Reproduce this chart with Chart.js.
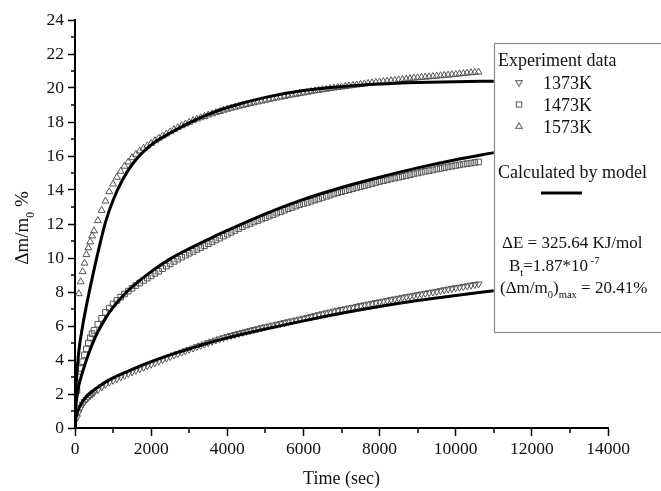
<!DOCTYPE html>
<html>
<head>
<meta charset="utf-8">
<script src="https://cdn.jsdelivr.net/npm/chart.js@4"></script>
<style>
  html, body { margin: 0; padding: 0; background: #fff; }
  #wrap { width: 661px; height: 491px; }
</style>
</head>
<body>
<div id="wrap"><canvas id="chart" width="661" height="491"></canvas></div>
<script>
// Experiment data (sec -> dm/m0 %)
const markerTimes = [50, 100, 150, 200, 250, 300, 350, 400, 450, 500,
  600, 700, 800, 900, 1000, 1100, 1200, 1300, 1400, 1500, 1600, 1700, 1800, 1900, 2000,
  2100, 2200, 2300, 2400, 2500, 2600, 2700, 2800, 2900, 3000,
  3100, 3200, 3300, 3400, 3500, 3600, 3700, 3800, 3900, 4000,
  4100, 4200, 4300, 4400, 4500, 4600, 4700, 4800, 4900, 5000,
  5100, 5200, 5300, 5400, 5500, 5600, 5700, 5800, 5900, 6000,
  6100, 6200, 6300, 6400, 6500, 6600, 6700, 6800, 6900, 7000,
  7100, 7200, 7300, 7400, 7500, 7600, 7700, 7800, 7900, 8000,
  8100, 8200, 8300, 8400, 8500, 8600, 8700, 8800, 8900, 9000,
  9100, 9200, 9300, 9400, 9500, 9600, 9700, 9800, 9900, 10000,
  10100, 10200, 10300, 10400, 10500, 10600];
const exp1373 = [0.60, 0.95, 1.20, 1.40, 1.55, 1.68, 1.80, 1.90, 1.99, 2.08,
  2.25, 2.41, 2.56, 2.69, 2.80, 2.90, 3.00, 3.10, 3.20, 3.30, 3.39, 3.48, 3.57, 3.66, 3.75,
  3.84, 3.93, 4.02, 4.11, 4.20, 4.29, 4.37, 4.46, 4.54, 4.62,
  4.70, 4.78, 4.86, 4.94, 5.02, 5.10, 5.17, 5.24, 5.31, 5.38,
  5.44, 5.50, 5.56, 5.62, 5.68, 5.73, 5.79, 5.84, 5.90, 5.95,
  6.00, 6.05, 6.10, 6.15, 6.20, 6.25, 6.30, 6.35, 6.40, 6.45,
  6.50, 6.56, 6.61, 6.67, 6.72, 6.77, 6.82, 6.87, 6.92, 6.97,
  7.01, 7.06, 7.10, 7.15, 7.20, 7.24, 7.29, 7.33, 7.38, 7.42,
  7.46, 7.50, 7.55, 7.59, 7.63, 7.67, 7.72, 7.76, 7.80, 7.84,
  7.88, 7.92, 7.96, 8.00, 8.04, 8.08, 8.13, 8.17, 8.21, 8.25,
  8.28, 8.32, 8.36, 8.40, 8.44, 8.47];
const exp1473 = [2.2, 3.0, 3.5, 3.9, 4.3, 4.65, 5.0, 5.3, 5.55, 5.75,
  6.10, 6.45, 6.80, 7.05, 7.30, 7.50, 7.70, 7.88, 8.05, 8.22, 8.38, 8.53, 8.68, 8.82, 8.95,
  9.09, 9.22, 9.37, 9.52, 9.66, 9.80, 9.93, 10.05, 10.17, 10.28,
  10.39, 10.50, 10.61, 10.72, 10.84, 10.95, 11.06, 11.17, 11.29, 11.40,
  11.51, 11.62, 11.73, 11.84, 11.94, 12.03, 12.12, 12.20, 12.29, 12.38,
  12.47, 12.55, 12.64, 12.72, 12.81, 12.90, 12.97, 13.05, 13.13, 13.20,
  13.27, 13.34, 13.41, 13.48, 13.56, 13.63, 13.70, 13.77, 13.84, 13.90,
  13.96, 14.02, 14.08, 14.14, 14.20, 14.26, 14.32, 14.38, 14.44, 14.50,
  14.55, 14.60, 14.65, 14.70, 14.75, 14.80, 14.85, 14.90, 14.95, 15.00,
  15.05, 15.10, 15.14, 15.18, 15.23, 15.27, 15.32, 15.36, 15.40, 15.44,
  15.48, 15.52, 15.55, 15.58, 15.62, 15.65];
const exp1573 = [null, 7.9, 8.6, 9.2, 9.7, 10.2, 10.6, 10.95, 11.3, 11.6,
  12.2, 12.8, 13.35, 13.9, 14.35, 14.75, 15.1, 15.4, 15.65, 15.9, 16.1, 16.3, 16.45, 16.6, 16.75,
  16.90, 17.05, 17.18, 17.30, 17.43, 17.55, 17.67, 17.78, 17.88, 17.98,
  18.08, 18.17, 18.25, 18.33, 18.41, 18.48, 18.55, 18.62, 18.69, 18.75,
  18.81, 18.87, 18.93, 18.98, 19.03, 19.08, 19.13, 19.18, 19.23, 19.28,
  19.33, 19.37, 19.42, 19.46, 19.51, 19.55, 19.59, 19.63, 19.67, 19.71,
  19.75, 19.79, 19.83, 19.86, 19.90, 19.93, 19.97, 20.00, 20.03, 20.06,
  20.09, 20.12, 20.15, 20.18, 20.21, 20.24, 20.27, 20.30, 20.33, 20.35,
  20.38, 20.40, 20.43, 20.45, 20.48, 20.50, 20.53, 20.55, 20.58, 20.60,
  20.62, 20.64, 20.66, 20.68, 20.70, 20.72, 20.74, 20.76, 20.78, 20.80,
  20.83, 20.85, 20.88, 20.90, 20.92, 20.94];

// Calculated by model
const modelTimes = [0, 20, 50, 100, 200, 300, 450, 600, 800, 1000, 1250, 1500, 2000, 2500,
  3000, 3500, 4000, 5000, 6000, 7000, 8000, 9000, 10000, 11000];
const model1373 = [0, 0.5, 0.8, 1.15, 1.55, 1.85, 2.15, 2.4, 2.7, 2.95, 3.2, 3.45, 3.9, 4.3,
  4.65, 5.0, 5.3, 5.82, 6.3, 6.75, 7.15, 7.5, 7.8, 8.07];
const model1473 = [0, 1.2, 1.8, 2.5, 3.3, 4.0, 4.9, 5.65, 6.45, 7.1, 7.75, 8.3, 9.2, 9.95,
  10.55, 11.1, 11.62, 12.6, 13.45, 14.15, 14.75, 15.3, 15.78, 16.2];
const model1573 = [0, 2.0, 3.2, 4.5, 6.0, 7.2, 8.8, 10.3, 12.1, 13.4, 14.6, 15.5, 16.65, 17.35,
  17.95, 18.45, 18.85, 19.45, 19.85, 20.08, 20.23, 20.32, 20.37, 20.4];

const xMin = 0, xMax = 14000, xStep = 2000;
const yMin = 0, yMax = 24, yStep = 2;

const serif = "'Liberation Serif', 'Times New Roman', serif";

function pts(xs, ys) {
  return xs.map((x, i) => ({ x: x, y: ys[i] })).filter(p => p.y !== null);
}

function modelSet(label, ys) {
  return {
    label: label, data: pts(modelTimes, ys), showLine: true,
    borderColor: '#000', borderWidth: 3, pointRadius: 0,
    cubicInterpolationMode: 'monotone', fill: false
  };
}

function expSet(label, ys, style, rot) {
  return {
    label: label, data: pts(markerTimes, ys), showLine: false,
    pointStyle: style, rotation: rot, pointRadius: 4,
    pointBorderColor: '#555', pointBackgroundColor: 'rgba(255,255,255,0)', pointBorderWidth: 1
  };
}

// text with sub/superscripts: parts = [[text, 'n'|'sub'|'sup'], ...]
function richWidth(ctx, parts, size) {
  let w = 0;
  parts.forEach(p => {
    ctx.font = (p[1] === 'n' ? size : size * 0.62) + 'px ' + serif;
    w += ctx.measureText(p[0]).width;
  });
  return w;
}
function drawRich(ctx, parts, x, y, size) {
  parts.forEach(p => {
    let dy = 0;
    if (p[1] === 'sub') dy = size * 0.3;
    if (p[1] === 'sup') dy = -size * 0.42;
    ctx.font = (p[1] === 'n' ? size : size * 0.62) + 'px ' + serif;
    ctx.fillText(p[0], x, y + dy);
    x += ctx.measureText(p[0]).width;
  });
}

const extras = {
  id: 'extras',
  afterDraw(chart) {
    const ctx = chart.ctx;
    const xs = chart.scales.x, ys = chart.scales.y;
    ctx.save();
    // minor ticks
    ctx.strokeStyle = '#000';
    ctx.lineWidth = 1.5;
    ctx.beginPath();
    for (let v = xMin + xStep / 2; v < xMax; v += xStep) {
      const px = Math.round(xs.getPixelForValue(v));
      ctx.moveTo(px, xs.top); ctx.lineTo(px, xs.top + 5);
    }
    for (let v = yMin + yStep / 2; v < yMax; v += yStep) {
      const py = Math.round(ys.getPixelForValue(v));
      ctx.moveTo(ys.right, py); ctx.lineTo(ys.right - 4, py);
    }
    ctx.stroke();

    // legend box
    ctx.fillStyle = '#fff';
    ctx.fillRect(494, 43, 180, 289);
    ctx.strokeStyle = '#888';
    ctx.lineWidth = 1.2;
    ctx.strokeRect(494.5, 43.5, 180, 289);

    ctx.fillStyle = '#111';
    ctx.textAlign = 'left';
    ctx.textBaseline = 'alphabetic';
    ctx.font = '18px ' + serif;
    ctx.fillText('Experiment data', 498, 65.5);
    const rows = [['1373K', 'triangle', 180, 88.5], ['1473K', 'rect', 0, 110.5], ['1573K', 'triangle', 0, 132.5]];
    rows.forEach(r => {
      ctx.fillStyle = '#111';
      ctx.font = '18px ' + serif;
      ctx.fillText(r[0], 543, r[3]);
      ctx.strokeStyle = '#777';
      ctx.fillStyle = 'rgba(255,255,255,0)';
      Chart.helpers.drawPoint(ctx, { pointStyle: r[1], rotation: r[2], radius: 3.8, borderWidth: 1 }, 519, r[3] - 6);
    });
    ctx.fillStyle = '#111';
    ctx.font = '18px ' + serif;
    ctx.fillText('Calculated by model', 498, 177.5);
    ctx.strokeStyle = '#000';
    ctx.lineWidth = 3;
    ctx.beginPath();
    ctx.moveTo(541, 193); ctx.lineTo(582, 193);
    ctx.stroke();

    drawRich(ctx, [['\u0394E = 325.64 KJ/mol', 'n']], 502, 247.5, 17);
    drawRich(ctx, [['B', 'n'], ['t', 'sub'], ['=1.87*10', 'n'], [' -7', 'sup']], 509, 271, 17);
    drawRich(ctx, [['(\u0394m/m', 'n'], ['0', 'sub'], [')', 'n'], ['max', 'sub'], [' = 20.41%', 'n']], 500, 292.5, 17);

    // axis titles
    ctx.fillStyle = '#111';
    const xt = [['Time (sec)', 'n']];
    drawRich(ctx, xt, (xs.left + xs.right) / 2 - richWidth(ctx, xt, 18) / 2, 484, 18);

    const yt = [['\u0394m/m', 'n'], ['0', 'sub'], [' %', 'n']];
    ctx.translate(28, 228);
    ctx.rotate(-Math.PI / 2);
    drawRich(ctx, yt, -richWidth(ctx, yt, 19) / 2, 0, 19);
    ctx.restore();
  }
};

const tickFont = { family: serif, size: 17.5 };

new Chart(document.getElementById('chart'), {
  type: 'scatter',
  data: {
    datasets: [
      modelSet('1573K model', model1573),
      modelSet('1473K model', model1473),
      modelSet('1373K model', model1373),
      expSet('1373K', exp1373, 'triangle', 180),
      expSet('1473K', exp1473, 'rect', 0),
      expSet('1573K', exp1573, 'triangle', 0)
    ]
  },
  options: {
    responsive: false,
    animation: false,
    layout: { padding: { left: 0, top: 20, right: 53, bottom: 0 } },
    plugins: { legend: { display: false }, tooltip: { enabled: false }, title: { display: false } },
    scales: {
      x: {
        type: 'linear', min: xMin, max: xMax,
        afterFit(s) { s.height = 63; },
        ticks: { stepSize: xStep, color: '#111', font: tickFont, padding: 3, maxRotation: 0,
                 callback: v => String(v) },
        grid: { drawOnChartArea: false, tickLength: 8, tickColor: '#000', tickWidth: 1.5 },
        border: { display: true, color: '#000', width: 2 }
      },
      y: {
        type: 'linear', min: yMin, max: yMax,
        afterFit(s) { s.width = 75; },
        ticks: { stepSize: yStep, color: '#111', font: tickFont, padding: 4,
                 callback: v => String(v) },
        grid: { drawOnChartArea: false, tickLength: 7, tickColor: '#000', tickWidth: 1.5 },
        border: { display: true, color: '#000', width: 2 }
      }
    }
  },
  plugins: [extras]
});
</script>
</body>
</html>
